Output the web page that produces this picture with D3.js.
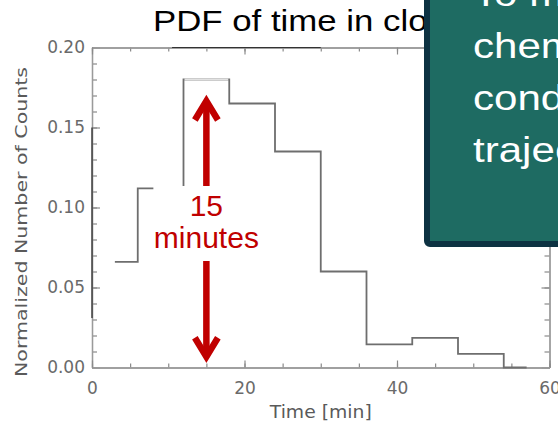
<!DOCTYPE html>
<html>
<head>
<meta charset="utf-8">
<script src="https://cdn.jsdelivr.net/npm/d3@7"></script>
<style>
  html, body { margin: 0; padding: 0; background: #fff; }
  svg { display: block; }
</style>
</head>
<body>
<svg id="chart" width="558" height="422"></svg>
<script>
// Histogram of time spent in cloud (IDL-style step plot, bin centres every 6 min)
const binCenters = [3, 9, 15, 21, 27, 33, 39, 45, 51, 57];
const pdfValues  = [0.066, 0.112, 0.180, 0.165, 0.135, 0.060, 0.0145, 0.0185, 0.0085, 0];

const yMajorTicks = [0, 0.05, 0.10, 0.15, 0.20];
const xMajorTicks = [0, 20, 40, 60];

const titleText = "PDF of time in cloud";
const xTitle = "Time [min]";
const yTitle = "Normalized Number of Counts";

// Annotation: typical residence time
const arrowTime = 15;
const arrowRange = [0.0036, 0.1697];
const arrowLabel = ["15", "minutes"];

const boxLines = ["To model", "chemistry", "conditions", "trajectories"];

const svg = d3.select("#chart");

const x = d3.scaleLinear().domain([0, 60]).range([92, 549.5]);
const y = d3.scaleLinear().domain([0, 0.20]).range([367.5, 47.5]);

const axisColor = "#9a9a9a";
const labelColor = "#6a6a6a";
const tickFont = "DejaVu Sans";

function styleAxis(g) {
  g.selectAll("path.domain").attr("stroke", axisColor).attr("stroke-width", 1.3);
  g.selectAll(".tick line").attr("stroke", "#8a8a8a").attr("stroke-width", 1.2);
  g.selectAll(".tick text")
    .attr("fill", labelColor)
    .attr("font-family", tickFont)
    .attr("font-size", 17);
}

const minorY = d3.range(0, 0.2001, 0.01);
const minorX = d3.range(0, 60.01, 5);

// Left axis (ticks point inward)
svg.append("g").attr("transform", `translate(${x(0)},0)`)
  .call(d3.axisLeft(y).tickValues(minorY).tickSizeInner(-5).tickSizeOuter(0).tickFormat(""))
  .call(styleAxis);
svg.append("g").attr("transform", `translate(${x(0)},0)`)
  .call(d3.axisLeft(y).tickValues(yMajorTicks).tickSizeInner(-8).tickSizeOuter(0)
        .tickPadding(7).tickFormat(d3.format(".2f")))
  .call(styleAxis);

// Right axis
svg.append("g").attr("transform", `translate(${x(60)},0)`)
  .call(d3.axisRight(y).tickValues(minorY).tickSizeInner(-5).tickSizeOuter(0).tickFormat(""))
  .call(styleAxis);
svg.append("g").attr("transform", `translate(${x(60)},0)`)
  .call(d3.axisRight(y).tickValues(yMajorTicks).tickSizeInner(-8).tickSizeOuter(0).tickFormat(""))
  .call(styleAxis);

// Bottom axis
svg.append("g").attr("transform", `translate(0,${y(0)})`)
  .call(d3.axisBottom(x).tickValues(minorX).tickSizeInner(-4).tickSizeOuter(0).tickFormat(""))
  .call(styleAxis);
svg.append("g").attr("transform", `translate(0,${y(0)})`)
  .call(d3.axisBottom(x).tickValues(xMajorTicks).tickSizeInner(-7).tickSizeOuter(0)
        .tickPadding(14).tickFormat(d3.format("d")))
  .call(styleAxis);

// Top axis
svg.append("g").attr("transform", `translate(0,${y(0.20)})`)
  .call(d3.axisTop(x).tickValues(minorX).tickSizeInner(-4).tickSizeOuter(0).tickFormat(""))
  .call(styleAxis);
svg.append("g").attr("transform", `translate(0,${y(0.20)})`)
  .call(d3.axisTop(x).tickValues(xMajorTicks).tickSizeInner(-7).tickSizeOuter(0).tickFormat(""))
  .call(styleAxis);

// Darker stretches of the frame lines
svg.append("line")
  .attr("x1", x(0)).attr("x2", x(0))
  .attr("y1", y(0.15)).attr("y2", y(0.031))
  .attr("stroke", "#3a3a3a").attr("stroke-width", 1.4);
svg.append("line")
  .attr("x1", x(10.5)).attr("x2", x(30))
  .attr("y1", y(0.20)).attr("y2", y(0.20))
  .attr("stroke", "#333").attr("stroke-width", 1.2);

// Axis titles
svg.append("text")
  .attr("x", (x(0) + x(60)) / 2 + 0).attr("y", 418)
  .attr("text-anchor", "middle")
  .attr("font-family", tickFont).attr("font-size", 17)
  .attr("fill", "#5a5a5a")
  .attr("textLength", 102).attr("lengthAdjust", "spacingAndGlyphs")
  .text(xTitle);

svg.append("text")
  .attr("transform", "translate(27,222) rotate(-90)")
  .attr("text-anchor", "middle")
  .attr("font-family", tickFont).attr("font-size", 16)
  .attr("fill", "#5a5a5a")
  .attr("textLength", 310).attr("lengthAdjust", "spacingAndGlyphs")
  .text(yTitle);

// Step histogram
const pts = binCenters.map((c, i) => [c, pdfValues[i]]);
const stepLine = d3.line().x(d => x(d[0])).y(d => y(d[1])).curve(d3.curveStep);
svg.append("path")
  .attr("d", stepLine(pts))
  .attr("fill", "none")
  .attr("stroke", "#6e6e6e")
  .attr("stroke-width", 1.8);

// Peak bin top edge is drawn faint
const peak = d3.maxIndex(pdfValues);
svg.append("line")
  .attr("x1", x((binCenters[peak - 1] + binCenters[peak]) / 2) + 1)
  .attr("x2", x((binCenters[peak] + binCenters[peak + 1]) / 2) - 1)
  .attr("y1", y(pdfValues[peak])).attr("y2", y(pdfValues[peak]))
  .attr("stroke", "#e2e2e2").attr("stroke-width", 2);

// Double-headed arrow
const red = "#c00000";
const ax = x(arrowTime);
const yTop = y(arrowRange[1]);
const yBot = y(arrowRange[0]);
svg.append("line")
  .attr("x1", ax).attr("x2", ax)
  .attr("y1", yTop + 6).attr("y2", yBot - 6)
  .attr("stroke", red).attr("stroke-width", 6.5);
svg.append("path")
  .attr("d", `M${ax - 11.5},${yTop + 24} L${ax},${yTop + 5} L${ax + 11.5},${yTop + 24}`)
  .attr("fill", "none").attr("stroke", red).attr("stroke-width", 6.5)
  .attr("stroke-linejoin", "miter").attr("stroke-miterlimit", 10);
svg.append("path")
  .attr("d", `M${ax - 11.5},${yBot - 24} L${ax},${yBot - 5} L${ax + 11.5},${yBot - 24}`)
  .attr("fill", "none").attr("stroke", red).attr("stroke-width", 6.5)
  .attr("stroke-linejoin", "miter").attr("stroke-miterlimit", 10);

// Label with white backing
svg.append("rect")
  .attr("x", ax - 53).attr("y", 186)
  .attr("width", 106).attr("height", 75)
  .attr("fill", "#fff");
const lbl = svg.append("text")
  .attr("text-anchor", "middle")
  .attr("font-family", "Liberation Sans, Arial, sans-serif")
  .attr("font-size", 30)
  .attr("fill", red);
lbl.append("tspan").attr("x", ax).attr("y", 216).text(arrowLabel[0]);
lbl.append("tspan").attr("x", ax).attr("y", 248).text(arrowLabel[1]);

// Title
svg.append("text")
  .attr("transform", "translate(153,31) scale(1.2,1)")
  .attr("font-family", "Liberation Sans, Arial, sans-serif")
  .attr("font-size", 29)
  .attr("fill", "#000")
  .text(titleText);

// Overlapping text box
svg.append("rect")
  .attr("x", 427).attr("y", -20)
  .attr("width", 200).attr("height", 264)
  .attr("rx", 3)
  .attr("fill", "#1e6b62")
  .attr("stroke", "#0d3242")
  .attr("stroke-width", 6);
const bt = svg.append("text")
  .attr("transform", "translate(473,0) scale(1.17,1)")
  .attr("font-family", "Liberation Sans, Arial, sans-serif")
  .attr("font-size", 36)
  .attr("fill", "#fff");
boxLines.forEach((t, i) => {
  bt.append("tspan").attr("x", 0).attr("y", 6 + i * 52).text(t);
});
</script>
</body>
</html>
